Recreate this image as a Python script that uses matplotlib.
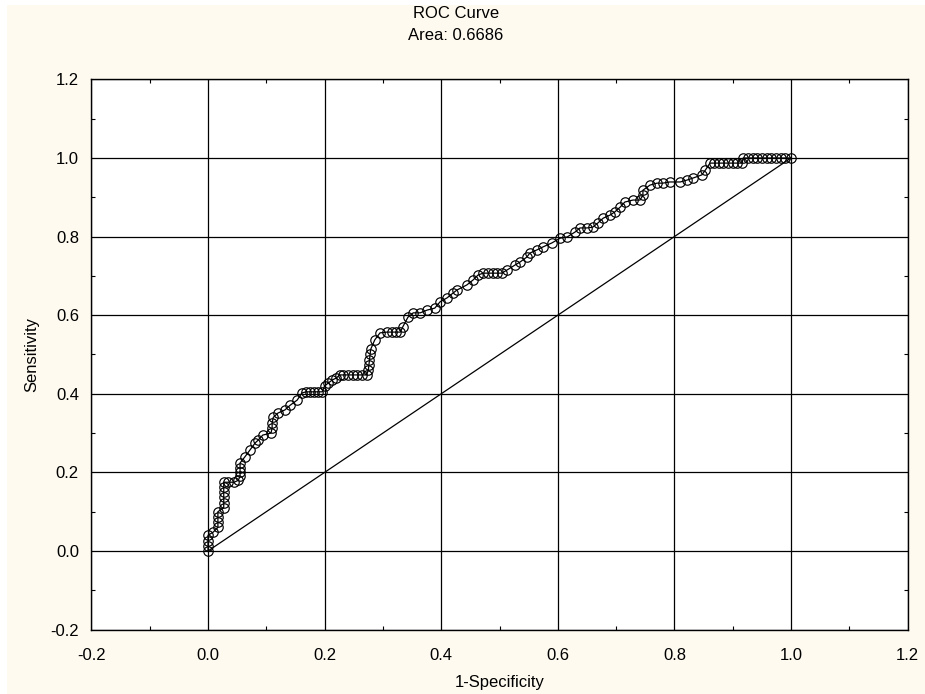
import matplotlib.pyplot as plt
from matplotlib.patches import Rectangle
from matplotlib.ticker import MultipleLocator

# ROC points (1-specificity, sensitivity)
fpr = [
    0.0, 0.0, 0.0, 0.0, 0.009, 0.017, 0.017, 0.017, 0.017,
    0.027, 0.027, 0.027, 0.027, 0.027, 0.027, 0.035, 0.045, 0.052,
    0.055, 0.055, 0.055, 0.055, 0.063, 0.072, 0.081, 0.086, 0.094,
    0.108, 0.110, 0.110, 0.112, 0.120, 0.132, 0.141, 0.153, 0.161,
    0.168, 0.175, 0.182, 0.189, 0.196, 0.200, 0.206, 0.213, 0.220,
    0.226, 0.232, 0.240, 0.248, 0.256, 0.264, 0.272, 0.275, 0.276,
    0.277, 0.278, 0.279, 0.286, 0.295, 0.307, 0.315, 0.322, 0.330,
    0.334, 0.343, 0.352, 0.364, 0.376, 0.389, 0.398, 0.410, 0.420,
    0.427, 0.444, 0.455, 0.463, 0.472, 0.480, 0.488, 0.496, 0.504,
    0.513, 0.527, 0.535, 0.547, 0.552, 0.564, 0.575, 0.590, 0.604,
    0.616, 0.630, 0.638, 0.650, 0.660, 0.669, 0.678, 0.690, 0.698,
    0.707, 0.715, 0.729, 0.741, 0.746, 0.746, 0.758, 0.770, 0.780,
    0.792, 0.810, 0.822, 0.832, 0.847, 0.853, 0.861, 0.868, 0.876,
    0.884, 0.892, 0.900, 0.908, 0.916, 0.918, 0.926, 0.934, 0.942,
    0.950, 0.958, 0.966, 0.974, 0.982, 0.990, 1.0,
]
tpr = [
    0.0, 0.013, 0.026, 0.040, 0.048, 0.060, 0.073, 0.087, 0.100,
    0.110, 0.123, 0.137, 0.150, 0.163, 0.175, 0.175, 0.175, 0.180,
    0.190, 0.200, 0.210, 0.224, 0.239, 0.257, 0.275, 0.282, 0.295,
    0.300, 0.313, 0.326, 0.340, 0.351, 0.359, 0.371, 0.384, 0.402,
    0.405, 0.405, 0.405, 0.405, 0.405, 0.420, 0.427, 0.435, 0.440,
    0.448, 0.448, 0.448, 0.448, 0.448, 0.448, 0.448, 0.460, 0.473,
    0.486, 0.500, 0.513, 0.537, 0.555, 0.557, 0.557, 0.557, 0.557,
    0.570, 0.595, 0.606, 0.606, 0.613, 0.618, 0.634, 0.644, 0.656,
    0.664, 0.677, 0.690, 0.702, 0.707, 0.707, 0.707, 0.707, 0.707,
    0.715, 0.728, 0.735, 0.748, 0.758, 0.766, 0.774, 0.784, 0.796,
    0.799, 0.812, 0.822, 0.822, 0.824, 0.835, 0.847, 0.855, 0.863,
    0.875, 0.888, 0.893, 0.893, 0.905, 0.918, 0.931, 0.936, 0.936,
    0.939, 0.939, 0.944, 0.949, 0.957, 0.969, 0.987, 0.987, 0.987,
    0.987, 0.987, 0.987, 0.987, 0.987, 1.0, 1.0, 1.0, 1.0,
    1.0, 1.0, 1.0, 1.0, 1.0, 1.0, 1.0,
]
diag = [0.0, 1.0]
area = 0.6686
ticks = [-0.2, 0.0, 0.2, 0.4, 0.6, 0.8, 1.0, 1.2]

plt.rcParams["font.family"] = ["Liberation Sans", "DejaVu Sans"]

fig = plt.figure(figsize=(9.25, 6.94), dpi=100, facecolor="white")
fig.patches.append(
    Rectangle((7 / 925, 0), 1, 1 - 5 / 694, transform=fig.transFigure,
              facecolor="#FEFAF0", edgecolor="none", zorder=-10)
)
ax = fig.add_axes([0.0988, 0.0928, 0.8824, 0.7928])
ax.set_facecolor("white")

ax.plot(diag, diag, color="black", linewidth=0.9, zorder=2)
ax.plot(
    fpr,
    tpr,
    color="black",
    linewidth=0.9,
    marker="o",
    markersize=6.8,
    markerfacecolor="none",
    markeredgecolor="black",
    markeredgewidth=0.85,
    zorder=3,
)

ax.set_xlim(-0.2, 1.2)
ax.set_ylim(-0.2, 1.2)
ax.xaxis.set_minor_locator(MultipleLocator(0.1))
ax.yaxis.set_minor_locator(MultipleLocator(0.1))
ax.set_xticks(ticks)
ax.set_yticks(ticks)
ax.set_xticklabels([f"{t:.1f}" for t in ticks])
ax.set_yticklabels([f"{t:.1f}" for t in ticks])
ax.tick_params(axis="x", which="major", length=0, labelsize=12, pad=13)
ax.tick_params(axis="y", which="major", length=0, labelsize=12, pad=9)
ax.tick_params(which="minor", direction="in", length=3, width=0.8,
               top=True, right=True)
ax.grid(True, which="major", color="black", linewidth=0.9)
for s in ax.spines.values():
    s.set_linewidth(1.0)
    s.set_color("black")

ax.set_xlabel("1-Specificity", fontsize=12, labelpad=9)
ax.set_ylabel("Sensitivity", fontsize=12, labelpad=8)
fig.text(456 / 925, 1 - 13 / 694, "ROC Curve", ha="center", va="center",
         fontsize=12)
fig.text(456 / 925, 1 - 35 / 694, f"Area: {area:.4f}", ha="center",
         va="center", fontsize=12)

fig.savefig("out.png", dpi=100, facecolor=fig.get_facecolor())
